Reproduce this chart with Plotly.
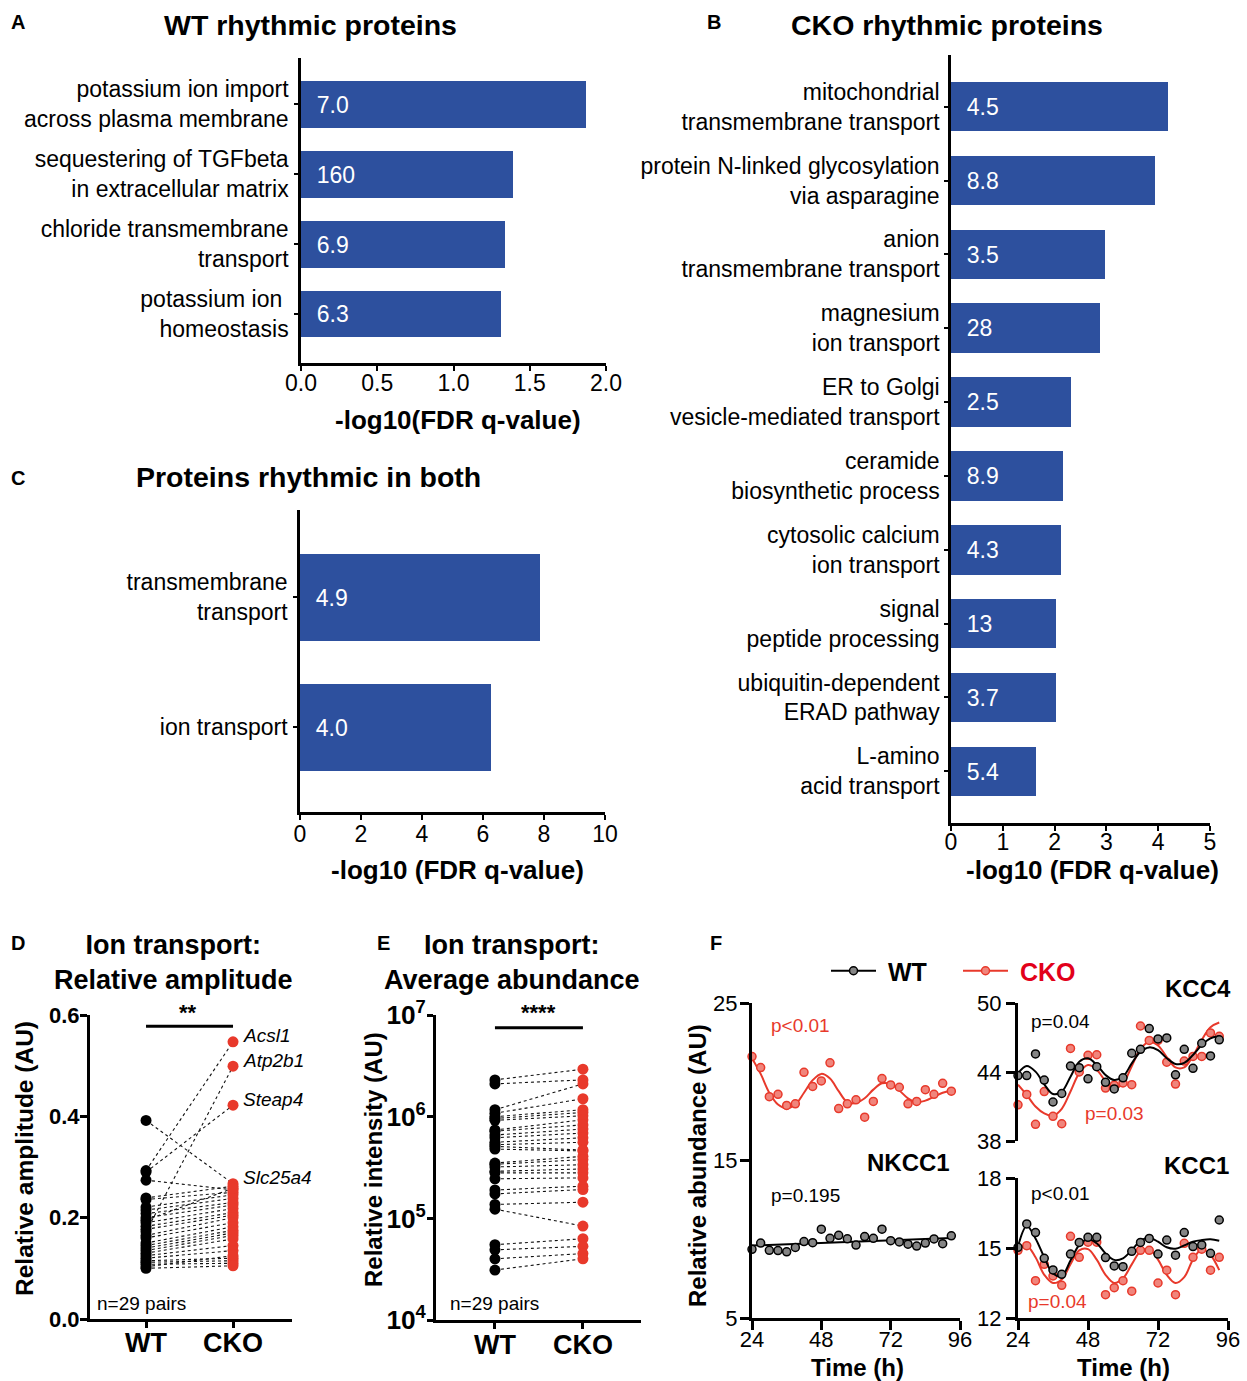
import plotly.graph_objects as go

W, H = 1247, 1381
FONT = "Liberation Sans, Arial, Helvetica, sans-serif"
BLUE = "#2D509E"
RED = "#E8392B"
RED_FILL = "#F0857C"
LEG_RED = "#E2001A"
PAD = "\u00a0\u00a0"

# ---- A: GO terms among WT rhythmic proteins
wt_terms = ["potassium ion import<br>across plasma membrane",
            "sequestering of TGFbeta<br>in extracellular matrix",
            "chloride transmembrane<br>transport",
            "potassium ion\u00a0<br>homeostasis"]
wt_logq = [1.87, 1.39, 1.34, 1.31]
wt_fold = ["7.0", "160", "6.9", "6.3"]

# ---- B: GO terms among CKO rhythmic proteins
cko_terms = ["mitochondrial<br>transmembrane transport",
             "protein N-linked glycosylation<br>via asparagine",
             "anion<br>transmembrane transport",
             "magnesium<br>ion transport",
             "ER to Golgi<br>vesicle-mediated transport",
             "ceramide<br>biosynthetic process",
             "cytosolic calcium<br>ion transport",
             "signal<br>peptide processing",
             "ubiquitin-dependent<br>ERAD pathway",
             "L-amino<br>acid transport"]
cko_logq = [4.18, 3.93, 2.98, 2.88, 2.31, 2.17, 2.13, 2.03, 2.03, 1.64]
cko_fold = ["4.5", "8.8", "3.5", "28", "2.5", "8.9", "4.3", "13", "3.7", "5.4"]

# ---- C: GO terms among proteins rhythmic in both genotypes
both_terms = ["transmembrane<br>transport", "ion transport"]
both_logq = [7.87, 6.26]
both_fold = ["4.9", "4.0"]

# ---- D: relative amplitude of ion-transport proteins (paired WT / CKO)
amp_wt = [0.392, 0.293, 0.290, 0.274, 0.239, 0.236, 0.221, 0.215, 0.208, 0.200,
          0.195, 0.190, 0.183, 0.177, 0.172, 0.165, 0.160, 0.150, 0.145, 0.140,
          0.135, 0.130, 0.125, 0.120, 0.115, 0.112, 0.108, 0.103, 0.100]
amp_cko = [0.267, 0.547, 0.422, 0.255, 0.262, 0.250, 0.245, 0.238, 0.230, 0.225,
           0.258, 0.218, 0.210, 0.205, 0.499, 0.200, 0.190, 0.182, 0.175, 0.170,
           0.165, 0.158, 0.145, 0.135, 0.120, 0.115, 0.110, 0.125, 0.105]
amp_gene = ["Slc25a4", "Acsl1", "Steap4", "", "", "", "", "", "", "",
            "", "", "", "", "Atp2b1", "", "", "", "", "",
            "", "", "", "", "", "", "", "", ""]
amp_bracket = 0.578

# ---- E: average abundance of ion-transport proteins (paired WT / CKO)
abd_wt = [2.3e6, 2.1e6, 1.17e6, 1.08e6, 1.0e6, 9.6e5, 9.2e5, 7.4e5, 7.2e5, 6.6e5,
          6.2e5, 5.6e5, 5.3e5, 5.1e5, 4.8e5, 3.5e5, 3.4e5, 3.2e5, 2.9e5, 2.8e5,
          2.45e5, 1.9e5, 1.74e5, 1.37e5, 1.23e5, 5.5e4, 4.9e4, 4.0e4, 3.1e4]
abd_cko = [2.93e6, 2.3e6, 2.1e6, 1.5e6, 1.17e6, 1.1e6, 1.02e6, 9.3e5, 8.3e5, 7.55e5,
           6.9e5, 6.2e5, 5.6e5, 4.7e5, 4.6e5, 4.07e5, 3.78e5, 3.37e5, 3.06e5, 2.8e5,
           2.5e5, 2.07e5, 1.92e5, 1.44e5, 8.4e4, 6.3e4, 5.3e4, 4.5e4, 4.0e4]
abd_bracket = 7.5e6

# ---- F: time courses (relative abundance) with fitted curves
time_h = [24, 27, 30, 33, 36, 39, 42, 45, 48, 51, 54, 57,
          60, 63, 66, 69, 72, 75, 78, 81, 84, 87, 90, 93]
nkcc1_wt = [9.36, 9.76, 9.30, 9.28, 9.20, 9.48, 9.85, 9.78, 10.64, 10.06, 10.25, 10.03,
            9.63, 10.17, 10.06, 10.64, 9.91, 9.83, 9.69, 9.57, 9.76, 10.02, 9.72, 10.22]
nkcc1_cko = [21.6, 20.9, 19.05, 19.2, 18.5, 18.6, 20.6, 19.7, 20.05, 21.2, 18.3, 18.6,
             18.85, 17.75, 18.75, 20.2, 19.8, 19.65, 18.6, 18.75, 19.5, 19.2, 19.9, 19.4]
nkcc1_wt_fit_t = [24, 93]
nkcc1_wt_fit = [9.6, 10.08]
nkcc1_cko_fit = [21.5, 20.5, 19.3, 18.55, 18.3, 18.55, 19.3, 20.1, 20.5, 20.2, 19.4, 18.7,
                 18.65, 18.95, 19.5, 19.9, 19.85, 19.45, 18.95, 18.7, 18.8, 19.05, 19.3, 19.45]

kcc4_wt = [43.69, 43.69, 45.57, 43.30, 41.39, 42.13, 44.52, 44.38, 43.41, 44.46, 43.10, 42.53,
           43.49, 45.63, 45.97, 47.78, 46.88, 46.96, 43.75, 45.97, 44.32, 46.50, 45.40, 46.80]
kcc4_cko = [41.15, 42.05, 39.45, 42.30, 40.15, 39.50, 46.05, 44.00, 45.45, 45.50, 42.60, 42.85,
            43.05, 42.90, 48.00, 46.75, 46.75, 44.85, 42.95, 44.95, 45.35, 45.35, 47.40, 47.10]
kcc4_wt_fit = [43.88, 44.52, 44.03, 42.93, 42.09, 42.29, 43.59, 44.90, 45.19, 44.61, 43.74, 43.30,
               43.59, 44.75, 45.77, 46.14, 45.90, 45.20, 44.70, 44.80, 45.48, 46.35, 46.93, 47.10]
kcc4_cko_fit = [42.9, 42.0, 41.0, 40.4, 40.2, 40.8, 42.3, 43.9, 44.6, 44.2, 43.2, 42.6,
                43.0, 44.5, 46.0, 46.6, 46.3, 45.3, 44.4, 44.4, 45.4, 46.8, 47.9, 48.3]

kcc1_wt = [15.03, 16.03, 15.66, 14.56, 14.06, 13.87, 14.74, 15.24, 15.46, 15.46, 14.59, 14.23,
           14.20, 14.86, 15.24, 15.41, 14.74, 15.34, 14.69, 15.66, 15.06, 15.13, 14.77, 16.20]
kcc1_cko = [14.90, 15.10, 13.60, 14.30, 13.80, 13.40, 15.50, 14.60, 15.25, 15.25, 13.00, 13.30,
            13.60, 13.15, 14.90, 14.90, 13.50, 14.05, 13.00, 15.20, 14.60, 14.95, 14.05, 14.60]
kcc1_wt_fit = [15.06, 15.94, 15.41, 14.60, 13.91, 13.80, 14.46, 15.13, 15.39, 15.20, 14.77, 14.49,
               14.56, 14.91, 15.31, 15.44, 15.27, 15.03, 14.97, 15.11, 15.27, 15.34, 15.37, 15.31]
kcc1_cko_fit = [14.95, 15.10, 14.60, 13.85, 13.50, 13.65, 14.30, 14.90, 14.95, 14.50, 13.85, 13.50,
                13.70, 14.30, 14.85, 14.95, 14.50, 13.85, 13.50, 13.75, 14.50, 14.95, 14.70, 14.05]


def hx(left, right):
    return [left / W, right / W]


def vy(top, bottom):
    return [1 - bottom / H, 1 - top / H]


def tfont(size, bold=False, color="black"):
    return dict(family=FONT, size=size, color=color, weight="bold" if bold else "normal")


def axis(**kw):
    base = dict(showline=True, linecolor="black", linewidth=2.5, ticks="outside",
                tickcolor="black", tickwidth=2, ticklen=5, showgrid=False, automargin=False,
                zeroline=False, fixedrange=True, tickfont=tfont(23))
    base.update(kw)
    return base


fig = go.Figure()


def bar_panel(terms, logq, fold, ax):
    fig.add_trace(go.Bar(
        x=logq, y=terms, orientation="h", marker=dict(color=BLUE, line=dict(width=0)),
        width=0.67, text=[PAD + f for f in fold], textposition="inside",
        insidetextanchor="start", textangle=0, constraintext="none",
        textfont=dict(family=FONT, size=23, color="white"),
        xaxis="x" + ax, yaxis="y" + ax, showlegend=False, hoverinfo="skip"))


bar_panel(wt_terms, wt_logq, wt_fold, "")
bar_panel(cko_terms, cko_logq, cko_fold, "2")
bar_panel(both_terms, both_logq, both_fold, "3")


def paired_panel(a, b, ax, bracket_y):
    xs, ys = [], []
    for u, v in zip(a, b):
        xs += [0, 1, None]
        ys += [u, v, None]
    fig.add_trace(go.Scatter(x=xs, y=ys, mode="lines", line=dict(color="#111111", width=1.1, dash="dot"),
                             xaxis="x" + ax, yaxis="y" + ax, showlegend=False, hoverinfo="skip"))
    fig.add_trace(go.Scatter(x=[0] * len(a), y=a, mode="markers", cliponaxis=False,
                             marker=dict(size=11, color="black"),
                             xaxis="x" + ax, yaxis="y" + ax, showlegend=False))
    fig.add_trace(go.Scatter(x=[1] * len(b), y=b, mode="markers", cliponaxis=False,
                             marker=dict(size=11, color=RED),
                             xaxis="x" + ax, yaxis="y" + ax, showlegend=False))
    fig.add_trace(go.Scatter(x=[0, 1], y=[bracket_y, bracket_y], mode="lines", cliponaxis=False,
                             line=dict(color="black", width=3),
                             xaxis="x" + ax, yaxis="y" + ax, showlegend=False))


paired_panel(amp_wt, amp_cko, "4", amp_bracket)
paired_panel(abd_wt, abd_cko, "5", abd_bracket)


def course(values, fit_t, fit, ax, dark):
    line_col = "black" if dark else RED
    fill = "#858585" if dark else RED_FILL
    fig.add_trace(go.Scatter(x=fit_t, y=fit, mode="lines", line=dict(color=line_col, width=2, shape="spline"),
                             xaxis="x" + ax, yaxis="y" + ax, showlegend=False, cliponaxis=False, hoverinfo="skip"))
    fig.add_trace(go.Scatter(x=time_h, y=values, mode="markers", cliponaxis=False,
                             marker=dict(size=8, color=fill, line=dict(color=line_col, width=1.5)),
                             xaxis="x" + ax, yaxis="y" + ax, showlegend=False))


course(nkcc1_cko, time_h, nkcc1_cko_fit, "6", False)
course(nkcc1_wt, nkcc1_wt_fit_t, nkcc1_wt_fit, "6", True)
course(kcc4_cko, time_h, kcc4_cko_fit, "7", False)
course(kcc4_wt, time_h, kcc4_wt_fit, "7", True)
course(kcc1_cko, time_h, kcc1_cko_fit, "8", False)
course(kcc1_wt, time_h, kcc1_wt_fit, "8", True)

# legend entries for panel F
fig.add_trace(go.Scatter(x=[None], y=[None], mode="lines+markers", name="\u00a0<b>WT</b>",
                         line=dict(color="black", width=2),
                         marker=dict(size=8, color="#858585", line=dict(color="black", width=1.5)),
                         xaxis="x6", yaxis="y6", showlegend=True))
fig.add_trace(go.Scatter(x=[None], y=[None], mode="lines+markers",
                         name="\u00a0<b><span style='color:%s'>CKO</span></b>" % LEG_RED,
                         line=dict(color=RED, width=2),
                         marker=dict(size=8, color=RED_FILL, line=dict(color=RED, width=1.5)),
                         xaxis="x6", yaxis="y6", showlegend=True))

lay = dict(template="none", width=W, height=H, autosize=False,
           margin=dict(l=0, r=0, t=0, b=0, pad=0),
           paper_bgcolor="white", plot_bgcolor="white", font=dict(family=FONT, color="black"),
           bargap=0,
           legend=dict(orientation="h", x=826 / W, y=1 - 971 / H, xanchor="left", yanchor="middle",
                       font=tfont(25), bgcolor="rgba(0,0,0,0)", itemwidth=45, borderwidth=0,
                       entrywidth=72, entrywidthmode="pixels"))

# bar panels
lay["xaxis"] = axis(domain=hx(301, 606), range=[0, 2], tickvals=[0, 0.5, 1, 1.5, 2],
                    tickformat=".1f", ticklabelstandoff=-7, anchor="y")
lay["yaxis"] = axis(domain=vy(58, 363), type="category", range=[3.7, -0.66], ticklen=4,
                    ticklabelstandoff=1, anchor="x")
lay["xaxis2"] = axis(domain=hx(951, 1210), range=[0, 5], dtick=1, ticklabelstandoff=-8, anchor="y2")
lay["yaxis2"] = axis(domain=vy(55, 823), type="category", range=[9.7, -0.7], ticklen=4,
                     ticklabelstandoff=0, anchor="x2")
lay["xaxis3"] = axis(domain=hx(300, 605), range=[0, 10], dtick=2, ticklabelstandoff=-5, anchor="y3")
lay["yaxis3"] = axis(domain=vy(510, 812), type="category", range=[1.65, -0.67], ticklen=4,
                     ticklabelstandoff=1, anchor="x3")

# paired dot panels
lay["xaxis4"] = axis(domain=hx(90, 292), range=[-0.644, 1.678], tickvals=[0, 1],
                     ticktext=["WT", "CKO"], linewidth=3, tickwidth=2.5, ticklen=6,
                     ticklabelstandoff=-8, tickfont=tfont(27, True), anchor="y4")
lay["yaxis4"] = axis(domain=vy(1015, 1319), range=[0, 0.6], dtick=0.2, tickformat=".1f",
                     linewidth=3, tickwidth=2.5, ticklen=7, ticklabelstandoff=-4,
                     tickfont=tfont(22, True), anchor="x4")
lay["xaxis5"] = axis(domain=hx(436, 641), range=[-0.67, 1.66], tickvals=[0, 1],
                     ticktext=["WT", "CKO"], linewidth=3, tickwidth=2.5, ticklen=6,
                     ticklabelstandoff=-7, tickfont=tfont(27, True), anchor="y5")
lay["yaxis5"] = axis(domain=vy(1015, 1320), type="log", range=[4, 7], dtick=1,
                     exponentformat="power", showexponent="all",
                     linewidth=3, tickwidth=2.5, ticklen=6, ticklabelstandoff=-3,
                     tickfont=tfont(21, True), anchor="x5")

# time-course panels
lay["xaxis6"] = axis(domain=hx(752, 960), range=[24, 96], tickvals=[24, 48, 72, 96],
                     linewidth=3, tickwidth=3, ticklen=9, ticklabelstandoff=-9,
                     tickfont=tfont(22), anchor="y6")
lay["yaxis6"] = axis(domain=vy(1003, 1318), range=[5, 25], tickvals=[5, 15, 25],
                     linewidth=3, tickwidth=3, ticklen=9, ticklabelstandoff=-2,
                     tickfont=tfont(22), anchor="x6")
lay["xaxis7"] = axis(domain=hx(1018, 1228), range=[24, 96], showline=False, ticks="",
                     showticklabels=False, anchor="y7")
lay["yaxis7"] = axis(domain=vy(1003, 1141), range=[38, 50], tickvals=[38, 44, 50],
                     linewidth=3, tickwidth=3, ticklen=9, tickfont=tfont(22), anchor="x7")
lay["xaxis8"] = axis(domain=hx(1018, 1228), range=[24, 96], tickvals=[24, 48, 72, 96],
                     linewidth=3, tickwidth=3, ticklen=9, ticklabelstandoff=-9,
                     tickfont=tfont(22), anchor="y8")
lay["yaxis8"] = axis(domain=vy(1178, 1318), range=[12, 18], tickvals=[12, 15, 18],
                     linewidth=3, tickwidth=3, ticklen=9, tickfont=tfont(22), anchor="x8")
# end caps on the split y axes
lay["yaxis9"] = axis(overlaying="y7", anchor="x7", range=[38, 50], tickvals=[38], ticks="inside",
                     ticklen=9, tickwidth=3, showline=False, showticklabels=False)
lay["yaxis10"] = axis(overlaying="y8", anchor="x8", range=[12, 18], tickvals=[18], ticks="inside",
                      ticklen=9, tickwidth=3, showline=False, showticklabels=False)

anns = []


def note(text, x, y, size, bold=False, color="black", xanchor="center", angle=0, italic=False):
    if bold:
        text = "<b>%s</b>" % text
    if italic:
        text = "<i>%s</i>" % text
    anns.append(dict(text=text, x=x / W, y=1 - y / H, xref="paper", yref="paper",
                     xanchor=xanchor, yanchor="middle", showarrow=False, textangle=angle,
                     font=dict(family=FONT, size=size, color=color)))


for letter, lx, ly in [("A", 18, 22), ("B", 714, 22), ("C", 18, 478),
                       ("D", 18, 943), ("E", 383, 943), ("F", 716, 943)]:
    note(letter, lx, ly, 20, bold=True)

note("WT rhythmic proteins", 310, 25, 28.5, bold=True)
note("CKO rhythmic proteins", 947, 25, 28.5, bold=True)
note("Proteins rhythmic in both", 308, 477, 28.5, bold=True)
note("-log10(FDR q-value)", 458, 420, 26, bold=True)
note("-log10 (FDR q-value)", 1092, 870, 26, bold=True)
note("-log10 (FDR q-value)", 457, 870, 26, bold=True)

note("Ion transport:<br>Relative amplitude", 173, 962, 27, bold=True)
note("Ion transport:<br>Average abundance", 512, 962, 27, bold=True)
note("Relative amplitude (AU)", 24, 1159, 24.5, bold=True, angle=-90)
note("Relative intensity (AU)", 373, 1160, 24, bold=True, angle=-90)
note("Relative abundance (AU)", 697, 1166, 24, bold=True, angle=-90)
note("**", 188, 1013, 22, bold=True)
note("****", 538, 1013, 22, bold=True)
note("n=29 pairs", 95, 1303, 19, xanchor="left")
note("n=29 pairs", 448, 1303, 19, xanchor="left")

note("Time (h)", 857, 1367, 24, bold=True)
note("Time (h)", 1123, 1367, 24, bold=True)
note("NKCC1", 908, 1162, 24, bold=True)
note("KCC4", 1198, 988, 24, bold=True)
note("KCC1", 1196, 1165, 24, bold=True)
note("p<0.01", 769, 1025, 19, color=RED, xanchor="left")
note("p=0.195", 769, 1195, 19, xanchor="left")
note("p=0.04", 1029, 1021, 19, xanchor="left")
note("p=0.03", 1083, 1113, 19, color=RED, xanchor="left")
note("p<0.01", 1029, 1193, 19, xanchor="left")
note("p=0.04", 1026, 1301, 19, color=RED, xanchor="left")

# gene names next to the outlying CKO amplitudes
for gene, val in zip(amp_gene, amp_cko):
    if gene:
        anns.append(dict(text="<i>%s</i>" % gene, x=1, y=val, xref="x4", yref="y4",
                         xanchor="left", yanchor="middle", xshift=8, yshift=6, showarrow=False,
                         font=dict(family=FONT, size=19, color="black")))

lay["annotations"] = anns
fig.update_layout(**lay)
fig.write_html("out.html")
